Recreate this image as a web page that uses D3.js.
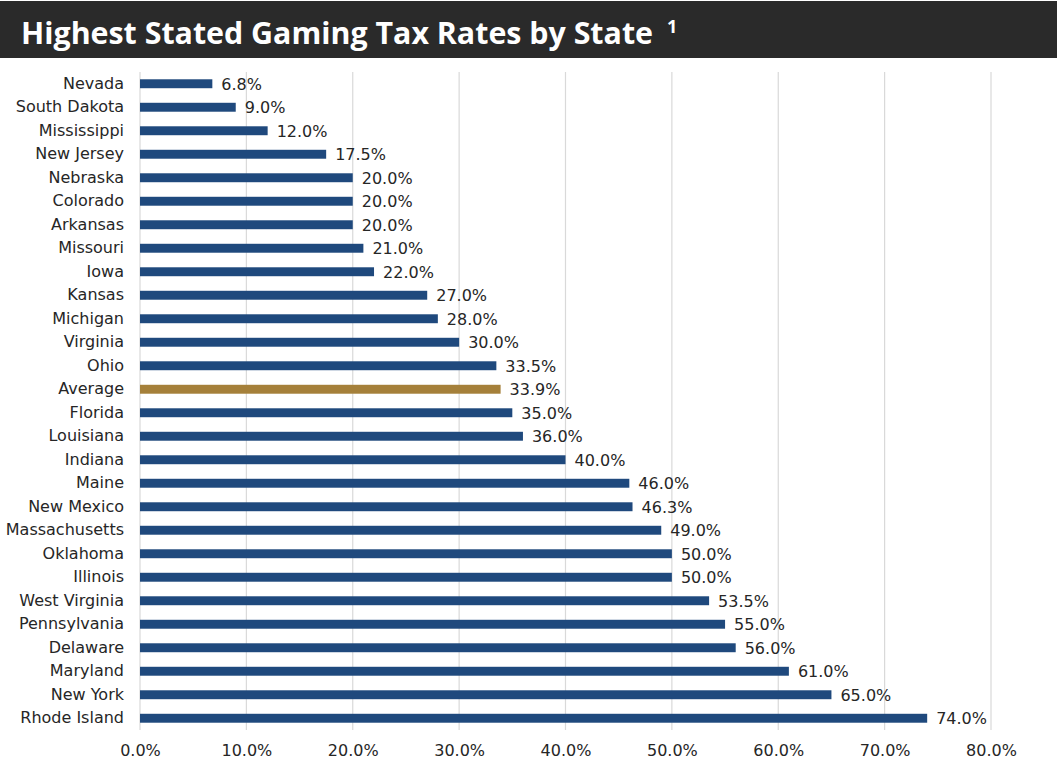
<!DOCTYPE html>
<html>
<head>
<meta charset="utf-8">
<script src="https://cdn.jsdelivr.net/npm/d3@7"></script>
<style>
  html, body { margin: 0; padding: 0; background: #ffffff; }
  svg { display: block; }
  .lbl { font-family: "DejaVu Sans", Verdana, sans-serif; font-size: 16px; fill: #262626; }
</style>
</head>
<body>
<svg id="chart" width="1057" height="774"></svg>
<script>
const states = ["Nevada","South Dakota","Mississippi","New Jersey","Nebraska","Colorado","Arkansas","Missouri","Iowa","Kansas","Michigan","Virginia","Ohio","Average","Florida","Louisiana","Indiana","Maine","New Mexico","Massachusetts","Oklahoma","Illinois","West Virginia","Pennsylvania","Delaware","Maryland","New York","Rhode Island"];
const rates = [6.8,9.0,12.0,17.5,20.0,20.0,20.0,21.0,22.0,27.0,28.0,30.0,33.5,33.9,35.0,36.0,40.0,46.0,46.3,49.0,50.0,50.0,53.5,55.0,56.0,61.0,65.0,74.0];
const tickValues = [0,10,20,30,40,50,60,70,80];
const titleText = "Highest Stated Gaming Tax Rates by State";
const highlight = "Average";

const data = states.map((s, i) => ({ state: s, rate: rates[i] }));

const svg = d3.select("#chart");
const W = 1057, H = 774;
const margin = { left: 140, right: 66, top: 72, bottom: 44 };

// Title bar
svg.append("rect").attr("x", 0).attr("y", 1).attr("width", W).attr("height", 57).attr("fill", "#2a2a2a");
svg.append("text")
  .attr("x", 21).attr("y", 44)
  .attr("fill", "#ffffff")
  .attr("font-family", "'Open Sans', sans-serif")
  .attr("font-weight", "bold")
  .attr("font-size", 31)
  .attr("textLength", 632).attr("lengthAdjust", "spacingAndGlyphs")
  .text(titleText);
svg.append("text")
  .attr("x", 667).attr("y", 33)
  .attr("fill", "#ffffff")
  .attr("font-family", "'Open Sans', sans-serif")
  .attr("font-weight", "bold")
  .attr("font-size", 18)
  .text("1");

const x = d3.scaleLinear().domain([0, 80]).range([margin.left, W - margin.right]);
const y = d3.scaleBand().domain(states).range([margin.top, H - margin.bottom]).paddingInner(0.62).paddingOuter(0.31);

// gridlines
svg.append("g").selectAll("line").data(tickValues).join("line")
  .attr("x1", d => x(d)).attr("x2", d => x(d))
  .attr("y1", margin.top).attr("y2", H - margin.bottom)
  .attr("stroke", "#d9d9d9").attr("stroke-width", 1.2);

// bars
svg.append("g").selectAll("rect").data(data).join("rect")
  .attr("x", x(0)).attr("y", d => y(d.state))
  .attr("width", d => x(d.rate) - x(0)).attr("height", y.bandwidth())
  .attr("fill", d => d.state === highlight ? "#a5803a" : "#1f497d");

// value labels
svg.append("g").selectAll("text").data(data).join("text")
  .attr("class", "lbl")
  .attr("x", d => x(d.rate) + 9).attr("y", d => y(d.state) + y.bandwidth() / 2)
  .attr("dy", "0.36em")
  .text(d => d.rate.toFixed(1) + "%");

// y axis labels
const yAxis = d3.axisLeft(y).tickSize(0).tickPadding(16);
const gy = svg.append("g").attr("transform", `translate(${margin.left},0)`).call(yAxis);
gy.select(".domain").remove();
gy.attr("font-family", null).attr("font-size", null);
gy.selectAll("text").attr("class", "lbl").attr("fill", null);

// x axis
const xAxis = d3.axisBottom(x).tickValues(tickValues).tickSize(0).tickPadding(15).tickFormat(d => d.toFixed(1) + "%");
const gx = svg.append("g").attr("transform", `translate(0,${H - margin.bottom})`).call(xAxis);
gx.select(".domain").remove();
gx.attr("font-family", null).attr("font-size", null);
gx.selectAll("text").attr("class", "lbl").attr("fill", null);
</script>
</body>
</html>
